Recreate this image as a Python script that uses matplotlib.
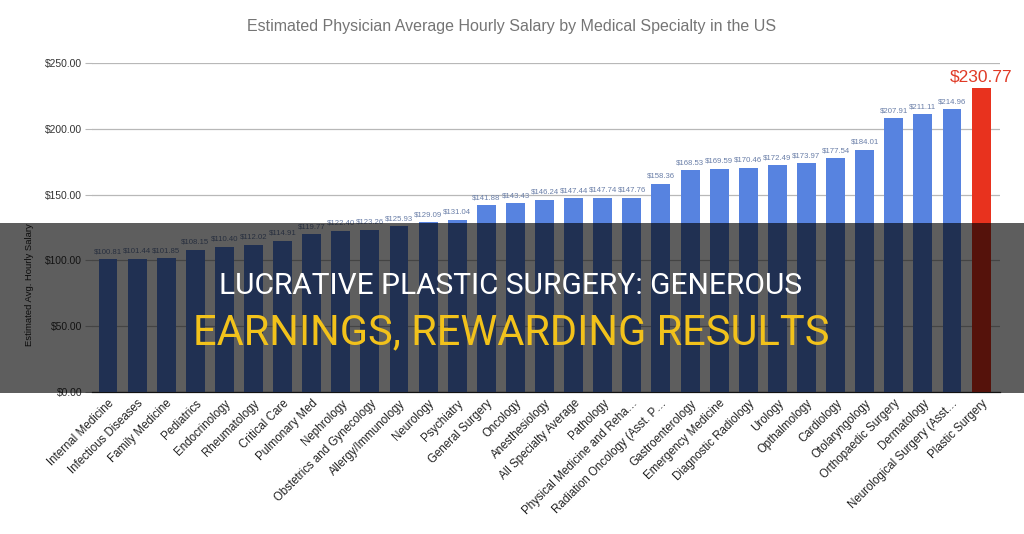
import matplotlib
matplotlib.use("Agg")
import matplotlib.pyplot as plt
from matplotlib.patches import Rectangle

categories = [
    "Internal Medicine", "Infectious Diseases", "Family Medicine", "Pediatrics",
    "Endocrinology", "Rheumatology", "Critical Care", "Pulmonary Med", "Nephrology",
    "Obstetrics and Gynecology", "Allergy/Immunology", "Neurology", "Psychiatry",
    "General Surgery", "Oncology", "Anesthesiology", "All Specialty Average",
    "Pathology", "Physical Medicine and Reha\u2026", "Radiation Oncology (Asst. P\u2026",
    "Gastroenterology", "Emergency Medicine", "Diagnostic Radiology", "Urology",
    "Opthalmology", "Cardiology", "Otolaryngology", "Orthopaedic Surgery",
    "Dermatology", "Neurological Surgery (Asst\u2026", "Plastic Surgery",
]
values = [
    100.81, 101.44, 101.85, 108.15, 110.40, 112.02, 114.91, 119.77, 122.40,
    123.26, 125.93, 129.09, 131.04, 141.88, 143.43, 146.24, 147.44, 147.74,
    147.76, 158.36, 168.53, 169.59, 170.46, 172.49, 173.97, 177.54, 184.01,
    207.91, 211.11, 214.96, 230.77,
]
yticks = [0, 50, 100, 150, 200, 250]
title = "Estimated Physician Average Hourly Salary by Medical Specialty in the US"
ylabel = "Estimated Avg. Hourly Salary"
banner_line1 = "LUCRATIVE PLASTIC SURGERY: GENEROUS"
banner_line2 = "EARNINGS, REWARDING RESULTS"

plt.rcParams['font.family'] = ['Liberation Sans', 'DejaVu Sans']

fig = plt.figure(figsize=(10.24, 5.34), dpi=100)
ax = fig.add_axes([92/1024, 1-392/534, (1000-92)/1024, (392-63)/534])

x = list(range(len(categories)))
colors = ['#5783e0'] * (len(values) - 1) + ['#e8321e']
ax.bar(x, values, width=0.65, color=colors, zorder=3)

for i, v in enumerate(values):
    if i == len(values) - 1:
        ax.text(i, v + 3, f"${v:.2f}", ha='center', va='bottom',
                fontsize=12.5, color='#e03a26', zorder=4)
    else:
        ax.text(i, v + 3, f"${v:.2f}", ha='center', va='bottom',
                fontsize=5.6, color='#6a7fa8', zorder=4)

ax.set_xlim(-0.55, len(values) - 0.35)
ax.set_ylim(0, 250)
ax.set_yticks(yticks)
ax.set_yticklabels([f"${t:.2f}" for t in yticks], fontsize=7.4, color='#333333')
ax.yaxis.grid(True, color='#b8b8b8', linewidth=0.9, zorder=0)
ax.tick_params(axis='y', length=5, color='#b8b8b8', pad=2)
ax.set_xticks(x)
ax.set_xticklabels(categories, rotation=45, ha='right', rotation_mode='anchor',
                   fontsize=8.3, color='#222222')
ax.tick_params(axis='x', length=0, pad=4)
for s in ['top', 'right', 'left']:
    ax.spines[s].set_visible(False)
ax.spines['bottom'].set_color('#333333')
ax.spines['bottom'].set_linewidth(0.9)

fig.text(512/1024, 1-27/534, title, ha='center', va='center',
         fontsize=11.5, color='#757575')
fig.text(30/1024, 1-285/534, ylabel, rotation=90, ha='center', va='center',
         fontsize=6.8, color='#222222')

# dark overlay banner
fig.add_artist(Rectangle((0, 1-393/534), 1, (393-223)/534, transform=fig.transFigure,
                         facecolor='black', alpha=0.63, edgecolor='none', zorder=10))
fig.text(511/1024, 1-286/534, banner_line1, ha='center', va='center',
         fontsize=21.5, color='white', zorder=11,
         family=['Roboto', 'DejaVu Sans'])
fig.text(511/1024, 1-333/534, banner_line2, ha='center', va='center',
         fontsize=30, color='#f2c21b', zorder=11,
         family=['Roboto', 'DejaVu Sans'])

fig.savefig("out.png", dpi=100)
